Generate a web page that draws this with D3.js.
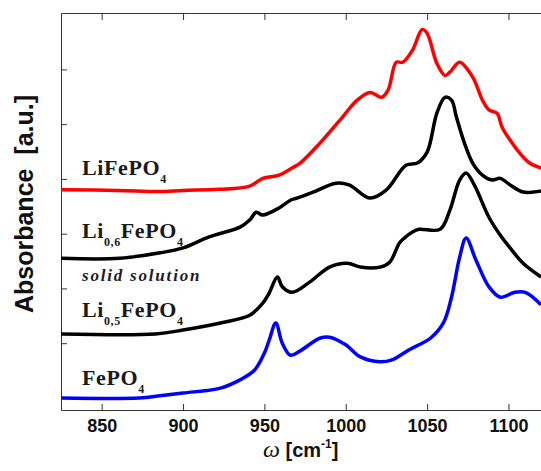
<!DOCTYPE html>
<html>
<head>
<meta charset="utf-8">
<script src="https://cdn.jsdelivr.net/npm/d3@7"></script>
<style>
  body { margin: 0; background: #fff; }
  svg { display: block; }
</style>
</head>
<body>
<div id="chart"></div>
<script>
// wavenumbers (cm-1) and absorbance (a.u., stacked offsets as drawn)
var lifepo4_x = [825, 860, 885, 900, 922, 941, 949, 959, 967, 972, 984, 998, 1007, 1015, 1022, 1026, 1031, 1035, 1041, 1047, 1050, 1056, 1061, 1064, 1070, 1078, 1084, 1088, 1093, 1096, 1101, 1107, 1113, 1120];
var lifepo4_y = [3.80, 3.79, 3.77, 3.79, 3.81, 3.87, 4.01, 4.07, 4.20, 4.29, 4.65, 5.13, 5.44, 5.58, 5.49, 5.62, 6.13, 6.13, 6.35, 6.73, 6.66, 6.11, 5.89, 5.95, 6.13, 5.86, 5.44, 5.26, 5.20, 4.95, 4.71, 4.47, 4.29, 4.20];

var li06_x = [825, 861, 886, 900, 916, 935, 941, 945, 949, 959, 966, 970, 980, 994, 1002, 1015, 1025, 1037, 1044, 1050, 1056, 1061, 1065, 1068, 1073, 1078, 1084, 1090, 1095, 1101, 1109, 1120];
var li06_y = [2.55, 2.55, 2.65, 2.74, 2.94, 3.12, 3.25, 3.39, 3.34, 3.47, 3.61, 3.65, 3.76, 3.92, 3.89, 3.65, 3.80, 4.25, 4.29, 4.49, 5.20, 5.49, 5.44, 5.13, 4.65, 4.29, 4.07, 3.98, 4.01, 3.89, 3.76, 3.78];

var li05_x = [825, 883, 900, 923, 941, 949, 953, 958, 961, 967, 978, 990, 1001, 1009, 1021, 1027, 1033, 1036, 1041, 1045, 1058, 1064, 1070, 1074, 1079, 1088, 1095, 1101, 1109, 1120];
var li05_y = [1.17, 1.17, 1.24, 1.37, 1.51, 1.73, 1.92, 2.21, 2.03, 1.93, 2.12, 2.39, 2.46, 2.39, 2.39, 2.48, 2.83, 2.92, 3.03, 3.08, 3.08, 3.43, 3.98, 4.11, 3.89, 3.30, 2.97, 2.74, 2.46, 2.21];

var fepo4_x = [825, 873, 886, 900, 923, 935, 944, 950, 953, 957, 961, 966, 972, 984, 990, 1000, 1009, 1021, 1028, 1039, 1052, 1060, 1065, 1070, 1074, 1080, 1088, 1095, 1104, 1111, 1120];
var fepo4_y = [0, 0, 0.04, 0.09, 0.18, 0.33, 0.51, 0.82, 1.06, 1.37, 1.00, 0.78, 0.86, 1.09, 1.11, 0.97, 0.75, 0.66, 0.69, 0.88, 1.09, 1.37, 1.84, 2.57, 2.92, 2.52, 2.03, 1.84, 1.93, 1.92, 1.70];

var series_colors = ["#ff0000", "#000000", "#000000", "#0000ff"];
var x_ticks = [850, 900, 950, 1000, 1050, 1100];
var y_ticks = [1, 2, 3, 4, 5, 6];

var W = 541, H = 471;
var mLeft = 61, mRight = 541, mTop = 13, mBottom = 410;

var svg = d3.select("#chart").append("svg")
  .attr("width", W)
  .attr("height", H);

var x = d3.scaleLinear().domain([825, 1120]).range([mLeft, mRight]);
var y = d3.scaleLinear().domain([-0.22, 7.03]).range([mBottom, mTop]);

svg.append("defs").append("clipPath").attr("id", "clip")
  .append("rect")
  .attr("x", mLeft).attr("y", mTop)
  .attr("width", mRight - mLeft).attr("height", mBottom - mTop);

// axes (ticks point inward)
var axisColor = "#333";
var gBottom = svg.append("g")
  .attr("transform", "translate(0," + mBottom + ")")
  .call(d3.axisBottom(x).tickValues(x_ticks).tickSizeInner(-6).tickSizeOuter(0).tickPadding(9).tickFormat(d3.format("d")));
gBottom.selectAll("text")
  .style("font-family", "'Liberation Sans', Arial, sans-serif")
  .style("font-weight", "bold")
  .style("font-size", "18px")
  .attr("fill", "#111");

var gTop = svg.append("g")
  .attr("transform", "translate(0," + mTop + ")")
  .call(d3.axisTop(x).tickValues(x_ticks).tickSizeInner(-7).tickSizeOuter(0).tickFormat(""));

var gLeft = svg.append("g")
  .attr("transform", "translate(" + mLeft + ",0)")
  .call(d3.axisLeft(y).tickValues(y_ticks).tickSizeInner(-6).tickSizeOuter(0).tickFormat(""));

svg.selectAll(".domain, .tick line").attr("stroke", axisColor);

// curves
var data = [
  [lifepo4_x, lifepo4_y],
  [li06_x, li06_y],
  [li05_x, li05_y],
  [fepo4_x, fepo4_y]
];

var line = d3.line()
  .x(function(d){ return x(d[0]); })
  .y(function(d){ return y(d[1]); })
  .curve(d3.curveCatmullRom.alpha(0.5));

svg.append("g").attr("clip-path", "url(#clip)")
  .selectAll("path")
  .data(data)
  .enter()
  .append("path")
  .attr("d", function(s){ return line(d3.zip(s[0], s[1])); })
  .attr("fill", "none")
  .attr("stroke", function(s, i){ return series_colors[i]; })
  .attr("stroke-width", 3.5)
  .attr("stroke-linejoin", "round");

// series labels
var serif = "'Liberation Serif', 'Times New Roman', serif";
function label(ypos, parts){
  var t = svg.append("text")
    .attr("x", 82).attr("y", ypos)
    .style("font-family", serif)
    .style("font-weight", "bold")
    .style("font-size", "22px")
    .style("letter-spacing", "0.6px")
    .attr("fill", "#1a1a1a");
  parts.forEach(function(p){
    var ts = t.append("tspan").text(p[0]);
    if (p[1]) {
      ts.style("font-size", "12px").attr("dy", 8);
    } else {
      ts.attr("dy", p[2] || 0);
    }
  });
}
label(175, [["LiFePO"], ["4", true]]);
label(238, [["Li"], ["0,6", true], ["FePO", false, -8], ["4", true]]);
label(317, [["Li"], ["0,5", true], ["FePO", false, -8], ["4", true]]);
label(385, [["FePO"], ["4", true]]);

svg.append("text")
  .attr("x", 82).attr("y", 281)
  .style("font-family", serif)
  .style("font-weight", "bold")
  .style("font-style", "italic")
  .style("font-size", "17px")
  .style("letter-spacing", "1.8px")
  .attr("fill", "#1a1a2a")
  .text("solid solution");

// axis titles
svg.append("text")
  .attr("transform", "translate(33,204) rotate(-90)")
  .attr("text-anchor", "middle")
  .style("font-family", "'Liberation Sans', Arial, sans-serif")
  .style("font-weight", "bold")
  .style("font-size", "25px")
  .style("white-space", "pre")
  .attr("fill", "#111")
  .text("Absorbance  [a.u.]");

var xt = svg.append("text")
  .attr("x", 263).attr("y", 457)
  .style("font-family", "'Liberation Sans', Arial, sans-serif")
  .style("font-weight", "bold")
  .style("font-size", "20px")
  .attr("fill", "#111");
xt.append("tspan")
  .style("font-family", serif)
  .style("font-style", "italic")
  .style("font-weight", "normal")
  .style("font-size", "24px")
  .text("\u03c9");
xt.append("tspan").text(" [cm");
xt.append("tspan").attr("dy", -9).style("font-size", "12px").text("-1");
xt.append("tspan").attr("dy", 9).text("]");
</script>
</body>
</html>
